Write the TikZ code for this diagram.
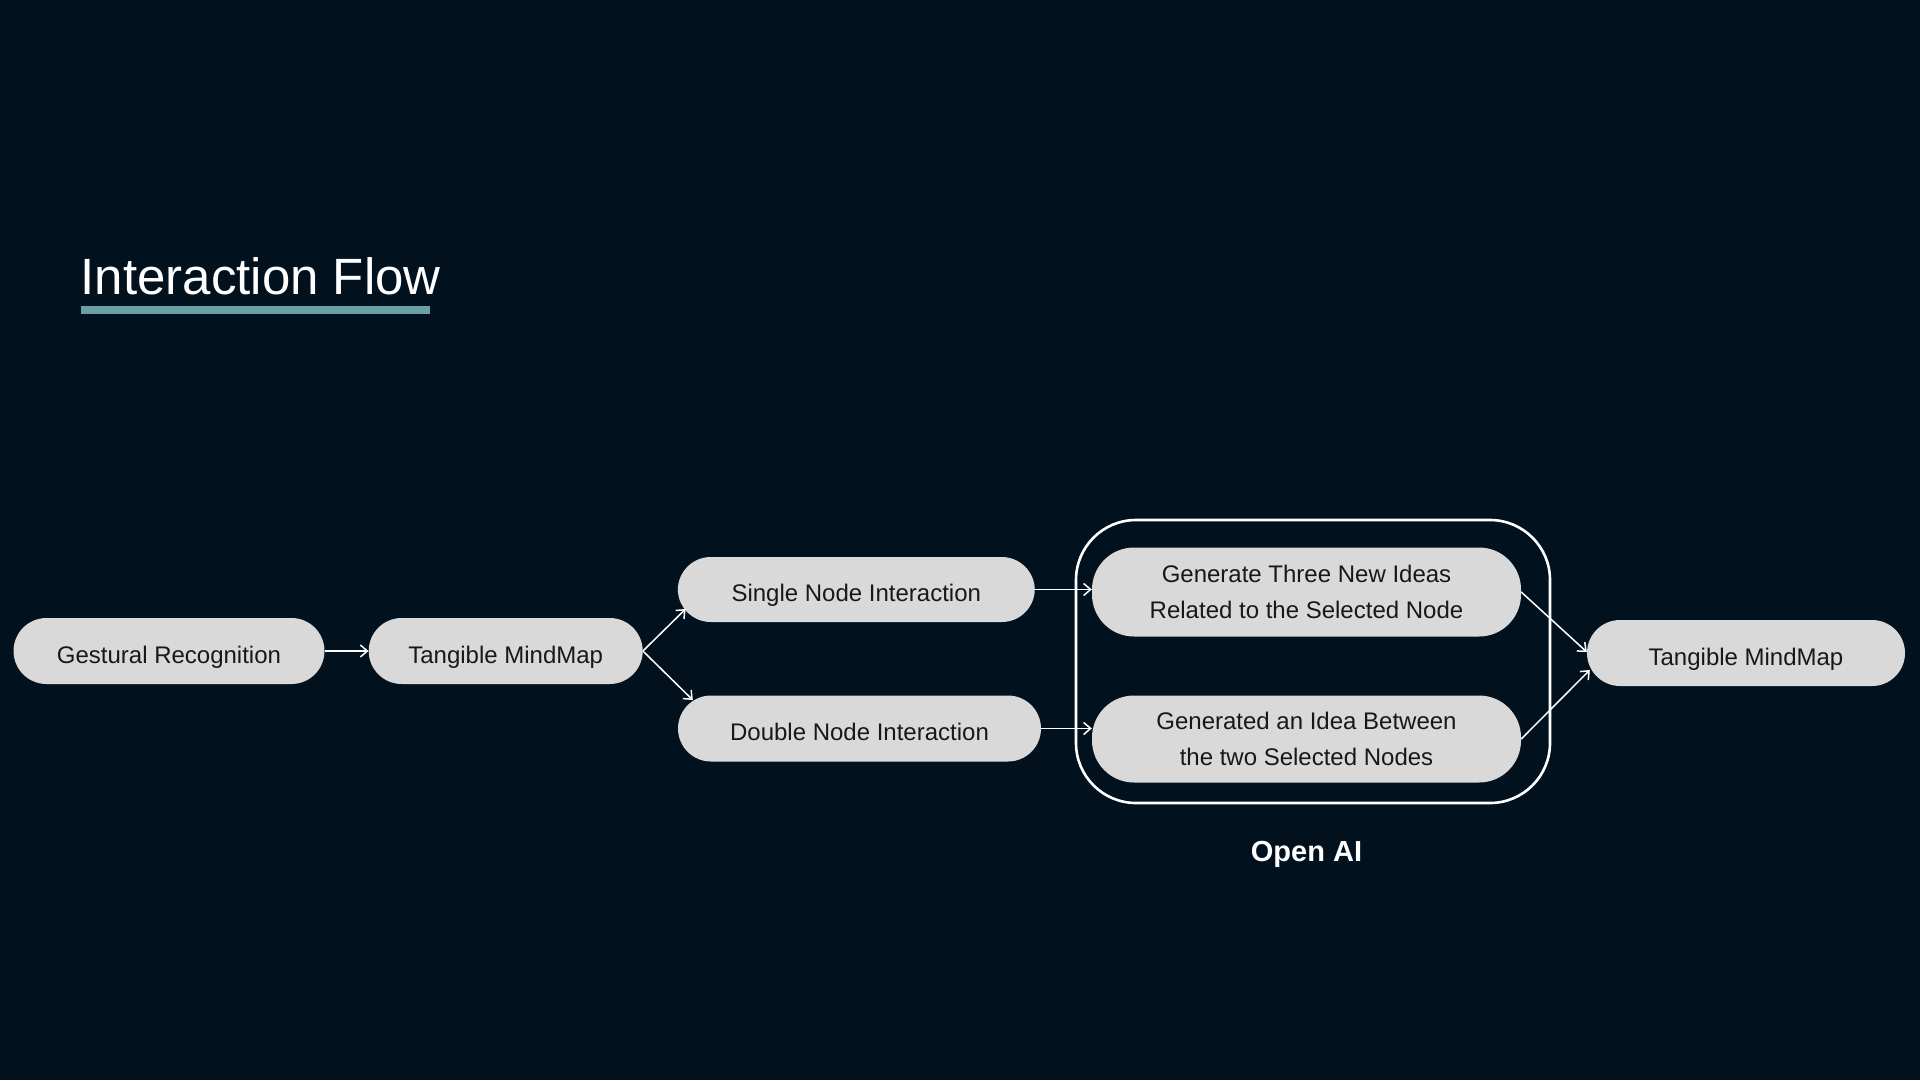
\documentclass[tikz,border=0pt]{standalone}
\usepackage{fontspec}
\setmainfont{Liberation Sans}
\usetikzlibrary{arrows.meta,calc}
\definecolor{bg}{HTML}{01111E}
\definecolor{pill}{HTML}{D9D9D9}
\definecolor{pilltext}{HTML}{181818}
\definecolor{accent}{HTML}{6A9FA8}
\begin{document}
\begin{tikzpicture}[x=1pt,y=-1pt,
  pillbox/.style={draw=none, fill=pill, text=pilltext, rounded corners=33pt,
    minimum height=66pt, inner sep=0pt, align=center,
    font=\fontsize{24}{35.5}\selectfont},
  oneline/.style={pillbox, text height=24pt, text depth=0pt},
  flow/.style={draw=white, line width=1.5pt,
    -{Straight Barb[length=7pt,width=12pt,line width=1.5pt]}},
  groupbox/.style={draw=white, line width=2.6pt, rounded corners=60pt, inner sep=0pt},
]
\fill[bg] (0,0) rectangle (1920,1080);
\useasboundingbox (0,0) rectangle (1920,1080);

% title
\node[text=white, font=\fontsize{51}{60}\selectfont, anchor=base west, inner sep=0pt] (title) at (80.5,294) {Interaction Flow};
\fill[accent] (81,305.5) rectangle (430,313.5);

% nodes
\node[oneline, minimum width=311pt] (gr) at (169,651) {Gestural Recognition};
\node[oneline, minimum width=274pt] (tm1) at (505.7,651) {Tangible MindMap};
\node[oneline, minimum width=357pt, minimum height=65pt] (sn) at (856.3,589.5) {Single Node Interaction};
\node[oneline, minimum width=363pt] (dn) at (859.5,728.5) {Double Node Interaction};
\node[groupbox, minimum width=474pt, minimum height=283pt] (box) at (1313,661.5) {};
\node[pillbox, minimum width=429pt, minimum height=89pt, rounded corners=42pt] (g1) at (1306.5,592) {Generate Three New Ideas\\Related to the Selected Node};
\node[pillbox, minimum width=429pt, minimum height=87pt, rounded corners=42pt] (g2) at (1306.5,739) {Generated an Idea Between\\the two Selected Nodes};
\node[oneline, minimum width=318pt] (tm2) at (1746,653) {Tangible MindMap};
\node[text=white, font=\fontsize{29}{34}\selectfont\bfseries, anchor=base, inner sep=0pt] (oal) at (1306.5,861) {Open AI};

% connectors
\draw[flow] (gr.east) -- (tm1.west);
\draw[flow] (tm1.east) -- ($(sn.west)+(8,19.5)$);
\draw[flow] (tm1.east) -- ($(dn.west)+(15,-28.5)$);
\draw[flow] (sn.east) -- (sn.east -| g1.west);
\draw[flow] (dn.east) -- (dn.east -| g2.west);
\draw[flow] (g1.east) -- ($(tm2.west)+(0,-1)$);
\draw[flow] (g2.east) -- ($(tm2.west)+(3,17)$);
\end{tikzpicture}
\end{document}
